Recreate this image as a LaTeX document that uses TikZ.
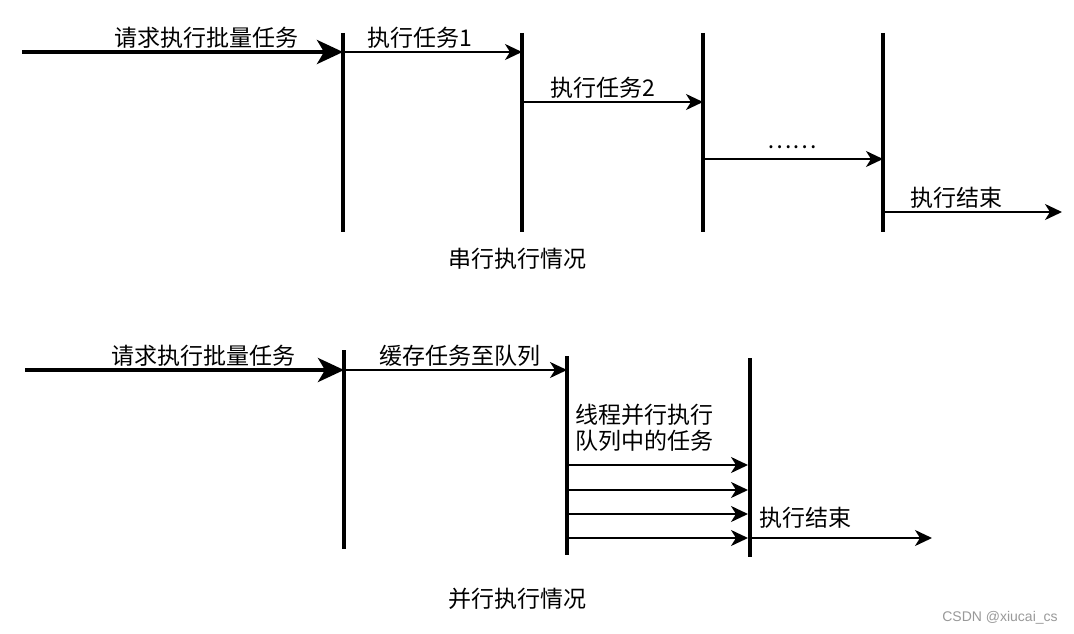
\documentclass[tikz,border=0pt]{standalone}
\usepackage{fontspec}
\setmainfont{Noto Sans CJK SC}
\newfontfamily\wmfont{Liberation Sans}
\usetikzlibrary{arrows.meta}
\begin{document}
\begin{tikzpicture}[x=1pt,y=-1pt,
  bar/.style={line width=4pt},
  bigarrow/.style={line width=4pt,-{Stealth[length=26pt,width=24pt,inset=7pt]}},
  smallarrow/.style={line width=2pt,-{Stealth[length=17pt,width=16pt,inset=5pt]}},
  lbl/.style={font=\fontsize{23}{28}\selectfont,inner sep=0pt},
  caption/.style={font=\fontsize{23}{28}\selectfont,inner sep=0pt}]
\useasboundingbox[fill=white] (0,0) rectangle (1074,634);
% ---------- serial ----------
\coordinate (a0) at (22,52);
\coordinate (v1t) at (343,33); \coordinate (v1b) at (343,232);
\coordinate (v2t) at (522,33); \coordinate (v2b) at (522,232);
\coordinate (v3t) at (703,33); \coordinate (v3b) at (703,232);
\coordinate (v4t) at (883,33); \coordinate (v4b) at (883,232);
\draw[bar] (v1t) -- (v1b);
\draw[bar] (v2t) -- (v2b);
\draw[bar] (v3t) -- (v3b);
\draw[bar] (v4t) -- (v4b);
\coordinate (s1) at (343,52); \coordinate (e1) at (522,52);
\coordinate (s2) at (522,102); \coordinate (e2) at (703,102);
\coordinate (s3) at (703,159); \coordinate (e3) at (883,159);
\coordinate (s4) at (883,212); \coordinate (e4) at (1062,212);
\draw[bigarrow] (a0) -- (s1);
\draw[smallarrow] (s1) -- (e1);
\draw[smallarrow] (s2) -- (e2);
\draw[smallarrow] (s3) -- (e3);
\draw[smallarrow] (s4) -- (e4);
\node[lbl] (t0) at (206,38) {请求执行批量任务};
\node[lbl] (t1) at (420,38) {执行任务1};
\node[lbl] (t2) at (603,88) {执行任务2};
\node[lbl] (t3) at (792,147) {……};
\node[lbl] (t4) at (956,198) {执行结束};
\node[caption] (c1) at (517,259) {串行执行情况};
% ---------- parallel ----------
\coordinate (b0) at (25,370);
\coordinate (w1t) at (344,350); \coordinate (w1b) at (344,549);
\coordinate (w2t) at (567,356); \coordinate (w2b) at (567,555);
\coordinate (w3t) at (750,358); \coordinate (w3b) at (750,557);
\draw[bar] (w1t) -- (w1b);
\draw[bar] (w2t) -- (w2b);
\draw[bar] (w3t) -- (w3b);
\coordinate (p1) at (344,370); \coordinate (q1) at (567,370);
\draw[bigarrow] (b0) -- (p1);
\draw[smallarrow] (p1) -- (q1);
\foreach \yy/\n in {465/1,490/2,514/3,538/4}{
  \coordinate (ps\n) at (567,\yy);
  \coordinate (pe\n) at (748,\yy);
  \draw[smallarrow] (ps\n) -- (pe\n);
}
\coordinate (f1) at (750,538); \coordinate (f2) at (932,538);
\draw[smallarrow] (f1) -- (f2);
\node[lbl] (u0) at (203,356) {请求执行批量任务};
\node[lbl] (u1) at (460,356) {缓存任务至队列};
\node[lbl,anchor=north west,align=left,font=\fontsize{23}{26}\selectfont] (u2) at (575,404) {线程并行执行\\队列中的任务};
\node[lbl] (u3) at (805,518) {执行结束};
\node[caption] (c2) at (517,599) {并行执行情况};
\node[inner sep=0pt,text=black!40,font=\wmfont\fontsize{14}{16}\selectfont] (wm) at (1000,618) {CSDN @xiucai\_cs};
\end{tikzpicture}
\end{document}
